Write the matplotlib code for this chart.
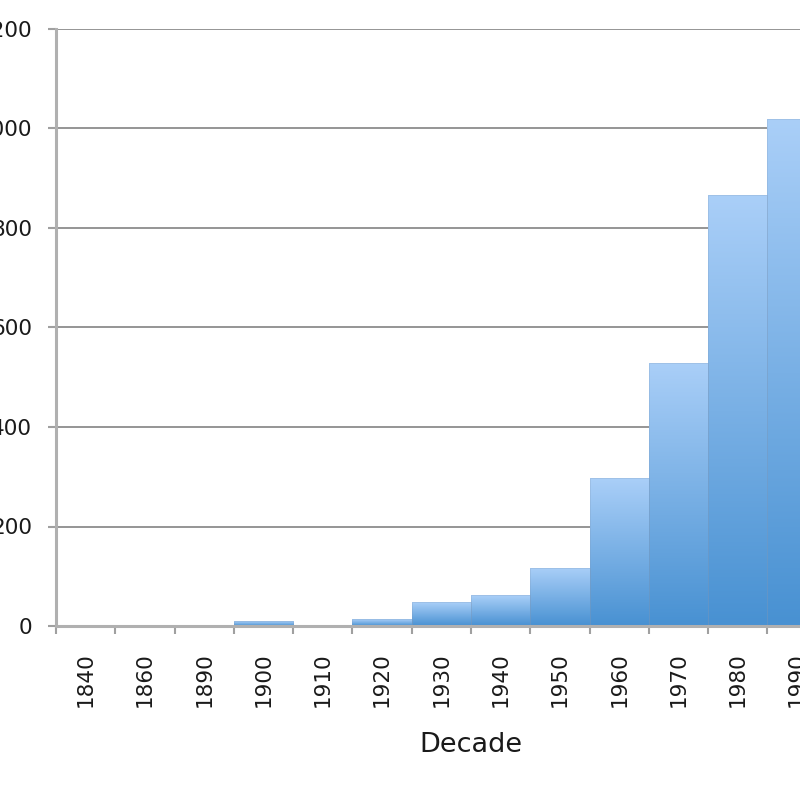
"""
Histogram of counts per decade, drawn as touching bars with a blue gradient.
"""

import numpy as np
import matplotlib
matplotlib.use("Agg")
import matplotlib.pyplot as plt
from matplotlib.colors import LinearSegmentedColormap


decades = ["1840", "1860", "1890", "1900", "1910", "1920", "1930",
           "1940", "1950", "1960", "1970", "1980", "1990"]
counts = [0, 0, 0, 10, 3, 14, 48, 62, 117, 297, 529, 866, 1019]
y_ticks = [0, 200, 400, 600, 800, 1000, 1200]


def gradient_bars(ax, bars, cmap):
    """Fill every bar with a vertical gradient, light at the top."""
    grad = np.linspace(0, 1, 256).reshape(-1, 1)
    for bar in bars:
        x0 = bar.get_x()
        x1 = x0 + bar.get_width()
        h = bar.get_height()
        if h <= 0:
            continue
        im = ax.imshow(grad, cmap=cmap, aspect="auto", origin="lower",
                       extent=[x0, x1, 0, h], zorder=2, interpolation="bicubic")
        im.set_clip_path(bar)


def main():
    fig = plt.figure(figsize=(8, 8), dpi=100)
    ax = fig.add_axes([0.07, 0.2175, 1.0375, 0.74625])

    x = np.arange(len(decades))
    bars = ax.bar(x, counts, width=1.0, color="none",
                  edgecolor=(0.5, 0.6, 0.72, 0.25), linewidth=0.7, zorder=3)

    cmap = LinearSegmentedColormap.from_list("blues", ["#4891d2", "#aacff8"])
    gradient_bars(ax, bars, cmap)

    ax.set_xlim(-0.5, 13.5)
    ax.set_ylim(0, 1200)

    # gridlines behind the bars
    ax.set_yticks(y_ticks)
    ax.set_yticklabels([str(v) for v in y_ticks])
    ax.yaxis.grid(True, color="#8c8c8c", linewidth=1.3)
    ax.set_axisbelow(True)

    # ticks on the category edges, labels in the middle
    ax.set_xticks(np.arange(-0.5, 14, 1.0))
    ax.set_xticklabels([])
    ax.set_xticks(x, minor=True)
    ax.set_xticklabels(decades, minor=True, rotation=90)
    ax.tick_params(axis="x", which="major", length=6, width=1.5,
                   color="#a0a0a0", direction="out")
    ax.tick_params(axis="x", which="minor", length=0, pad=19,
                   labelsize=15.5, labelcolor="#1a1a1a")
    ax.tick_params(axis="y", length=6, width=1.5, color="#a0a0a0",
                   pad=11, labelsize=15.5, labelcolor="#1a1a1a")

    for side in ["top", "right"]:
        ax.spines[side].set_visible(False)
    for side in ["left", "bottom"]:
        ax.spines[side].set_color("#b0b0b0")
        ax.spines[side].set_linewidth(2.2)
        ax.spines[side].set_zorder(4)

    ax.set_xlabel("Decade", fontsize=19.5, color="#1a1a1a", labelpad=18)

    fig.savefig("out.png", dpi=100)


if __name__ == "__main__":
    main()
